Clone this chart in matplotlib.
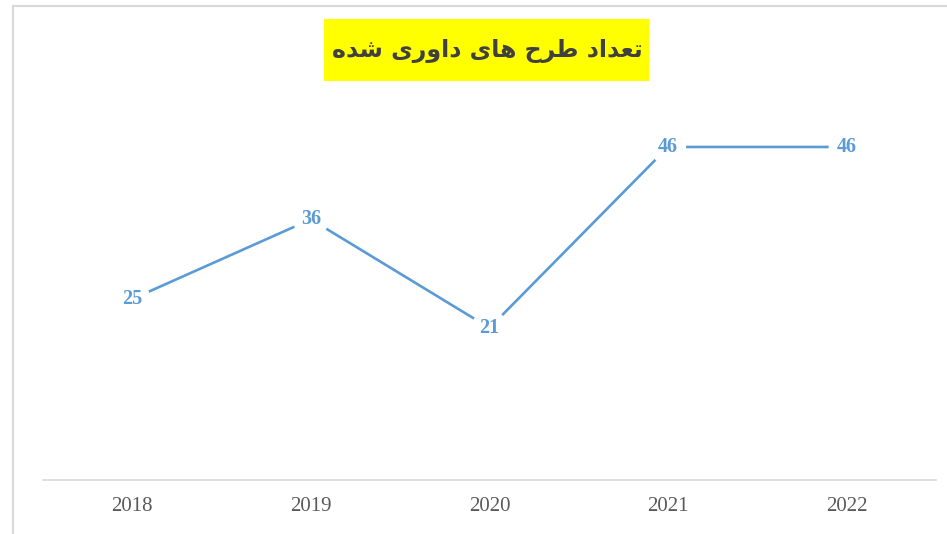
import matplotlib
matplotlib.use("Agg")
import matplotlib.pyplot as plt
from matplotlib.patches import Rectangle
from matplotlib.lines import Line2D

years = ["2018", "2019", "2020", "2021", "2022"]
values = [25, 36, 21, 46, 46]
# Title "تعداد طرح های داوری شده" in Arabic presentation forms (logical order),
# reversed for left-to-right rendering.
title_logical = ("\uFE97\uFECC\uFEAA\uFE8D\uFEA9 "
                 "\uFEC3\uFEAE\uFEA1 "
                 "\uFEEB\uFE8E\uFEEF "
                 "\uFEA9\uFE8D\uFEED\uFEAD\uFEEF "
                 "\uFEB7\uFEAA\uFEE9")
title_text = title_logical[::-1]

W, H = 947, 534
fig = plt.figure(figsize=(W / 100, H / 100), dpi=100)
fig.patch.set_facecolor("white")

# outer chart border (left and top visible)
fig.add_artist(Line2D([12.5 / W, 12.5 / W], [0, 1 - 6 / H], transform=fig.transFigure,
                      color="#D9D9D9", lw=1.5))
fig.add_artist(Line2D([12.5 / W, 1], [1 - 6 / H, 1 - 6 / H], transform=fig.transFigure,
                      color="#D9D9D9", lw=1.5))

ax = fig.add_axes([43 / W, 1 - 480 / H, (936 - 43) / W, (480 - 118) / H])
x = list(range(len(years)))
ax.plot(x, values, color="#5B9BD5", lw=1.9, solid_capstyle="butt", zorder=2)
for xi, v in zip(x, values):
    ax.text(xi, v, str(v), ha="center", va="center", color="#5B9BD5",
            fontsize=14.5, fontweight="bold", family="Liberation Serif", zorder=3,
            bbox=dict(boxstyle="circle,pad=0.4", facecolor="white", edgecolor="none"))

ax.set_xlim(-0.5, len(years) - 0.5)
ax.set_ylim(0, 50)
ax.set_xticks(x)
ax.set_xticklabels(years, family="Liberation Serif", fontsize=15, color="#595959")
ax.tick_params(axis="x", length=0, pad=12)
ax.set_yticks([])
for s in ["top", "right", "left"]:
    ax.spines[s].set_visible(False)
ax.spines["bottom"].set_color("#D9D9D9")
ax.spines["bottom"].set_linewidth(1.2)
ax.patch.set_alpha(0)

# title box
fig.add_artist(Rectangle((324 / W, 1 - 81 / H), (649 - 324) / W, (81 - 19) / H,
                         transform=fig.transFigure, facecolor="#FFFF00", edgecolor="none"))
fig.text(487 / W, 1 - 51 / H, title_text, ha="center", va="center", fontsize=17,
         fontweight="bold", color="#404040", family=["DejaVu Sans"])

fig.savefig("out.png", dpi=100)
